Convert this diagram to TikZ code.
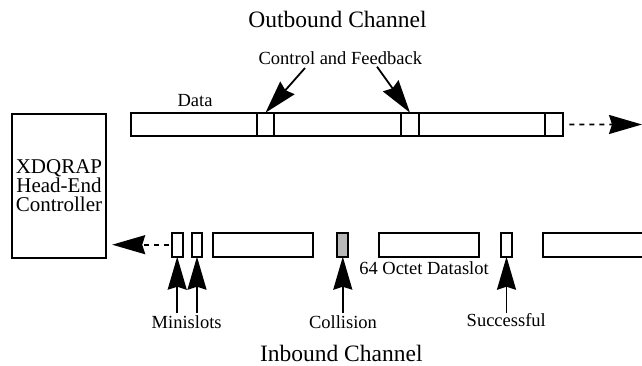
\documentclass[tikz,border=0pt]{standalone}
\usepackage{fontspec}
\setmainfont{Liberation Serif}
\usetikzlibrary{arrows.meta}
\tikzset{
  slot/.style={draw, line width=1.9pt, minimum height=23.5pt, inner sep=0pt, outer sep=0pt, anchor=north west},
  arr/.style={line width=1.8pt, -{Stealth[length=33pt,width=19pt,inset=3pt]}},
  dasharr/.style={line width=1.8pt, dash pattern=on 5pt off 5pt, -{Stealth[length=33pt,width=19pt,inset=3pt]}},
  lbl/.style={inner sep=0pt, anchor=base, font=\fontsize{18.5}{20}\selectfont},
  title/.style={inner sep=0pt, anchor=base, font=\fontsize{23.5}{26}\selectfont},
}
\begin{document}
\begin{tikzpicture}[x=1pt,y=-1pt]
\useasboundingbox (0,0) rectangle (642,366);
\clip (0,0) rectangle (642,366);
% head-end controller
\node[draw, line width=1.9pt, minimum width=94.6pt, minimum height=144pt, inner sep=0pt, anchor=north west,
      align=center, font=\fontsize{21}{19.3}\selectfont] (head) at (10.7,112.7) {XDQRAP\\Head-End\\Controller};
% outbound bar
\node[slot, minimum width=126pt] (s1) at (130.7,112.7) {};
\node[slot, minimum width=17.6pt] (c1) at (256.7,112.7) {};
\node[slot, minimum width=126.7pt] (s2) at (274.3,112.7) {};
\node[slot, minimum width=18pt] (c2) at (401,112.7) {};
\node[slot, minimum width=126pt] (s3) at (419,112.7) {};
\node[slot, minimum width=18.3pt] (c3) at (545,112.7) {};
\coordinate (outend) at (642,124.5);
\draw[dasharr, shorten <=6pt] (c3.east) -- (outend);
% inbound slots
\node[slot, minimum width=11pt, minimum height=24pt] (m1) at (171.7,232.7) {};
\node[slot, minimum width=10.6pt, minimum height=24pt] (m2) at (191.7,232.7) {};
\node[slot, minimum width=100pt, minimum height=24pt] (d1) at (213.3,232.7) {};
\node[slot, minimum width=11pt, minimum height=24pt, fill=black!28] (col) at (337.3,232.7) {};
\node[slot, minimum width=99.7pt, minimum height=24pt] (d2) at (379.3,232.7) {};
\node[slot, minimum width=11.6pt, minimum height=24pt] (suc) at (500.7,232.7) {};
\node[slot, minimum width=120pt, minimum height=24pt] (d3) at (543.3,232.7) {};
\draw[dasharr, shorten <=3pt, shorten >=5pt] (m1.west) -- (head.east |- m1.west);
% labels
\node[title] (outb) at (337.5,28) {Outbound Channel};
\node[title] (inb) at (341.3,361.5) {Inbound Channel};
\node[lbl] (cf) at (340.3,65) {Control and Feedback};
\node[lbl] (data) at (195,106.7) {Data};
\node[lbl] (octet) at (424,274.3) {64 Octet Dataslot};
\node[lbl] (mini) at (186.7,328.3) {Minislots};
\node[lbl] (colli) at (343,328) {Collision};
\node[lbl] (succ) at (506.3,326) {Successful};
% control arrows
\coordinate (cft1) at (305,68);
\coordinate (cft2) at (377,66.7);
\draw[arr] (cft1) -- (c1.north);
\draw[arr] (cft2) -- (c2.north);
% inbound arrows
\coordinate (t1) at (177.2,313.3);
\coordinate (t2) at (197,313.3);
\coordinate (t3) at (342.8,313.3);
\coordinate (t4) at (506.5,313.3);
\draw[arr] (t1) -- (m1.south);
\draw[arr] (t2) -- (m2.south);
\draw[arr] (t3) -- (col.south);
\draw[arr] (t4) -- (suc.south);
\end{tikzpicture}
\end{document}
